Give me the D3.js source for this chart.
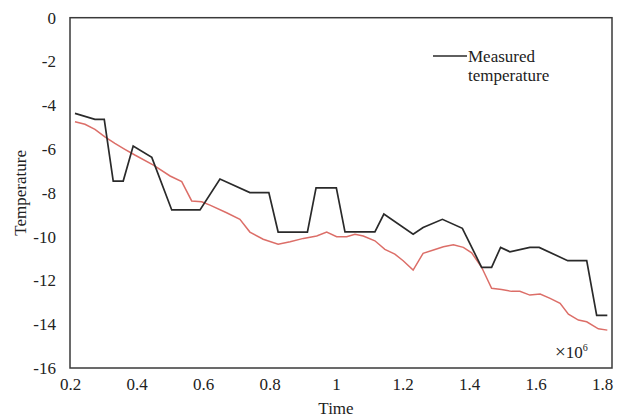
<!DOCTYPE html>
<html>
<head>
<meta charset="utf-8">
<script src="https://cdn.jsdelivr.net/npm/d3@7"></script>
<style>
  html, body { margin: 0; padding: 0; background: #fff; }
  svg { display: block; font-family: "Liberation Serif", "Times New Roman", serif; }
</style>
</head>
<body>
<div id="chart"></div>
<script>
// time (x10^6) and temperature readings
const measuredTime = [0.215, 0.275, 0.303, 0.330, 0.360, 0.390, 0.446, 0.506, 0.591, 0.651, 0.741, 0.798,
  0.826, 0.914, 0.940, 1.001, 1.027, 1.117, 1.144, 1.232, 1.262, 1.320, 1.380, 1.438, 1.468, 1.495,
  1.523, 1.583, 1.611, 1.697, 1.754, 1.784, 1.816];
const measuredTemp = [-4.37, -4.64, -4.64, -7.46, -7.46, -5.86, -6.38, -8.78, -8.78, -7.37, -7.99, -7.99,
  -9.79, -9.79, -7.77, -7.77, -9.78, -9.78, -8.97, -9.89, -9.58, -9.21, -9.62, -11.40, -11.40, -10.49,
  -10.69, -10.49, -10.49, -11.10, -11.10, -13.60, -13.60];

const simTime = [0.215, 0.245, 0.275, 0.305, 0.335, 0.365, 0.395, 0.451, 0.501, 0.536, 0.566, 0.596,
  0.621, 0.671, 0.711, 0.741, 0.781, 0.826, 0.862, 0.902, 0.942, 0.972, 1.002, 1.032, 1.057, 1.082,
  1.117, 1.147, 1.177, 1.202, 1.232, 1.262, 1.293, 1.323, 1.353, 1.383, 1.408, 1.438, 1.468, 1.498,
  1.528, 1.553, 1.583, 1.614, 1.644, 1.674, 1.699, 1.729, 1.754, 1.789, 1.816];
const simTemp = [-4.75, -4.87, -5.10, -5.44, -5.74, -6.01, -6.27, -6.73, -7.23, -7.49, -8.37, -8.41,
  -8.56, -8.91, -9.21, -9.79, -10.12, -10.35, -10.23, -10.08, -9.97, -9.79, -10.00, -10.00, -9.89, -9.97,
  -10.19, -10.58, -10.80, -11.10, -11.53, -10.76, -10.61, -10.46, -10.37, -10.49, -10.74, -11.40, -12.36, -12.41,
  -12.50, -12.50, -12.67, -12.62, -12.82, -13.05, -13.54, -13.81, -13.89, -14.21, -14.27];

const xTicks = [0.2, 0.4, 0.6, 0.8, 1, 1.2, 1.4, 1.6, 1.8];
const yTicks = [0, -2, -4, -6, -8, -10, -12, -14, -16];

const width = 631, height = 418;
const frame = { left: 70, right: 612, top: 17.7, bottom: 368 };
const fontSize = 17;

const x = d3.scaleLinear().domain([0.2, 1.8]).range([70, 602]);
const y = d3.scaleLinear().domain([-16, 0]).range([frame.bottom, frame.top]);

const svg = d3.select("#chart").append("svg")
  .attr("width", width)
  .attr("height", height);

svg.append("rect")
  .attr("x", frame.left)
  .attr("y", frame.top)
  .attr("width", frame.right - frame.left)
  .attr("height", frame.bottom - frame.top)
  .attr("fill", "none")
  .attr("stroke", "#3a3a3a")
  .attr("stroke-width", 1.5);

// axes: labels only, the frame replaces the domain lines
const xAxis = svg.append("g")
  .attr("transform", `translate(0,${frame.bottom})`)
  .call(d3.axisBottom(x).tickValues(xTicks).tickSize(0).tickPadding(10).tickFormat(d3.format("")));
const yAxis = svg.append("g")
  .attr("transform", `translate(${frame.left},0)`)
  .call(d3.axisLeft(y).tickValues(yTicks).tickSize(0).tickPadding(14).tickFormat(d => d));

[xAxis, yAxis].forEach(g => {
  g.attr("font-family", null).attr("font-size", null);
  g.select(".domain").remove();
  g.selectAll("text")
    .attr("font-size", fontSize)
    .attr("fill", "#222");
});

const line = d3.line().x(d => x(d[0])).y(d => y(d[1]));

svg.append("path")
  .datum(d3.zip(simTime, simTemp))
  .attr("d", line)
  .attr("fill", "none")
  .attr("stroke", "#dc6e68")
  .attr("stroke-width", 1.5);

svg.append("path")
  .datum(d3.zip(measuredTime, measuredTemp))
  .attr("d", line)
  .attr("fill", "none")
  .attr("stroke", "#2a2a2a")
  .attr("stroke-width", 1.7);

// legend
const legend = svg.append("g");
legend.append("line")
  .attr("x1", 433).attr("x2", 467)
  .attr("y1", 56).attr("y2", 56)
  .attr("stroke", "#2a2a2a")
  .attr("stroke-width", 1.7);
legend.append("text")
  .attr("x", 468).attr("y", 62)
  .attr("font-size", fontSize)
  .attr("fill", "#222")
  .text("Measured");
legend.append("text")
  .attr("x", 468).attr("y", 81)
  .attr("font-size", fontSize)
  .attr("fill", "#222")
  .text("temperature");

// axis titles
svg.append("text")
  .attr("x", 336).attr("y", 414)
  .attr("text-anchor", "middle")
  .attr("font-size", fontSize)
  .attr("fill", "#222")
  .text("Time");

svg.append("text")
  .attr("transform", `translate(26,${(frame.top + frame.bottom) / 2}) rotate(-90)`)
  .attr("text-anchor", "middle")
  .attr("font-size", fontSize)
  .attr("fill", "#222")
  .text("Temperature");

const mult = svg.append("text")
  .attr("x", 555).attr("y", 358)
  .attr("font-size", 19)
  .attr("fill", "#222");
mult.append("tspan").text("×");
mult.append("tspan").attr("font-size", fontSize).text("10");
mult.append("tspan").attr("dy", -7).attr("font-size", 10).text("6");
</script>
</body>
</html>
